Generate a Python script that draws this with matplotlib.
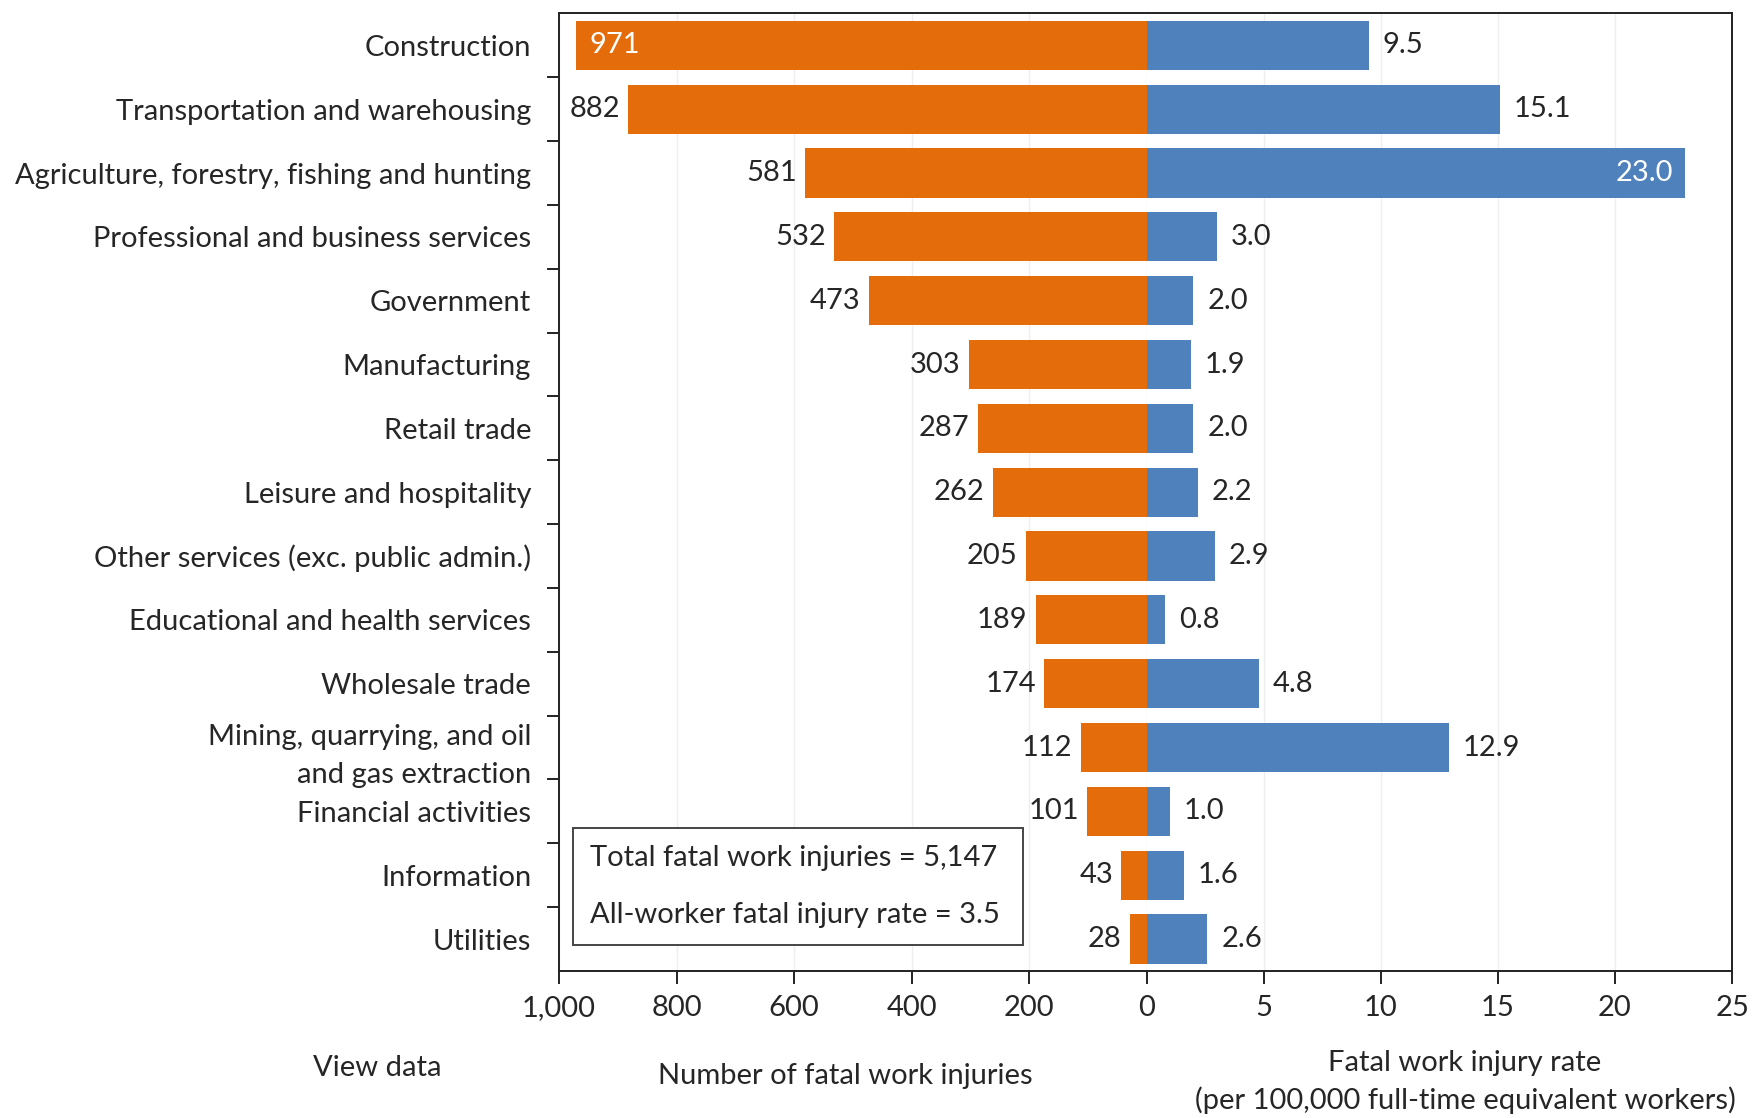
import numpy as np
import matplotlib
matplotlib.use("Agg")
from matplotlib import pyplot as plt
from matplotlib.patches import Rectangle
from matplotlib.ticker import FixedLocator

plt.rcParams["font.family"] = ["Lato", "DejaVu Sans"]

industries = [
    "Construction",
    "Transportation and warehousing",
    "Agriculture, forestry, fishing and hunting",
    "Professional and business services",
    "Government",
    "Manufacturing",
    "Retail trade",
    "Leisure and hospitality",
    "Other services (exc. public admin.)",
    "Educational and health services",
    "Wholesale trade",
    "Mining, quarrying, and oil\nand gas extraction",
    "Financial activities",
    "Information",
    "Utilities",
]
fatal_counts = [971, 882, 581, 532, 473, 303, 287, 262, 205, 189, 174, 112, 101, 43, 28]
fatal_rates = [9.5, 15.1, 23.0, 3.0, 2.0, 1.9, 2.0, 2.2, 2.9, 0.8, 4.8, 12.9, 1.0, 1.6, 2.6]
count_ticks = [1000, 800, 600, 400, 200, 0]
rate_ticks = [5, 10, 15, 20, 25]
summary_lines = ["Total fatal work injuries = 5,147", "All-worker fatal injury rate = 3.5"]

ORANGE = "#E46C0A"
BLUE = "#4F81BD"
TEXT = "#262626"
FS = 21

fig = plt.figure(figsize=(17.54, 11.18), dpi=100)
ax_l = fig.add_axes([0.3187, 0.1315, 0.335, 0.8565])
ax_r = fig.add_axes([0.6537, 0.1315, 0.3338, 0.8565], sharey=ax_l)

y = np.arange(len(industries))
bar_h = 0.77

ax_l.barh(y, fatal_counts, height=bar_h, color=ORANGE, zorder=3)
ax_r.barh(y, fatal_rates, height=bar_h, color=BLUE, zorder=3)

ax_l.set_xlim(1000, 0)
ax_r.set_xlim(0, 25)
ax_l.set_ylim(len(industries) - 0.5, -0.5)

# value labels (left axis is inverted: negative offset moves text left)
for i, v in enumerate(fatal_counts):
    if i == 0:
        ax_l.annotate(f"{v}", (v, i), xytext=(10, 0), textcoords="offset points",
                      ha="left", va="center", color="white", fontsize=FS)
    else:
        ax_l.annotate(f"{v}", (v, i), xytext=(-6, 0), textcoords="offset points",
                      ha="right", va="center", color=TEXT, fontsize=FS)
for i, v in enumerate(fatal_rates):
    if v >= 20:
        ax_r.annotate(f"{v:.1f}", (v, i), xytext=(-9, 0), textcoords="offset points",
                      ha="right", va="center", color="white", fontsize=FS)
    else:
        ax_r.annotate(f"{v:.1f}", (v, i), xytext=(10, 0), textcoords="offset points",
                      ha="left", va="center", color=TEXT, fontsize=FS)

# spines
for ax in (ax_l, ax_r):
    for s in ax.spines.values():
        s.set_color("#222222")
        s.set_linewidth(1.4)
    ax.grid(axis="x", color="#eeeeee", linewidth=1, zorder=0)
    ax.set_axisbelow(True)
ax_l.spines["right"].set_visible(False)
ax_r.spines["left"].set_visible(False)

# x ticks
ax_l.xaxis.set_major_locator(FixedLocator(count_ticks))
ax_l.set_xticklabels([f"{t:,}" for t in count_ticks])
ax_r.xaxis.set_major_locator(FixedLocator(rate_ticks))
ax_r.set_xticklabels([str(t) for t in rate_ticks])
for ax in (ax_l, ax_r):
    ax.tick_params(axis="x", direction="out", length=9, width=1.4, color="#222222",
                   labelsize=FS, labelcolor=TEXT, pad=8)

# y ticks: marks between categories, labels at centres
ax_l.yaxis.set_major_locator(FixedLocator(np.arange(0.5, len(industries) - 1, 1)))
ax_l.yaxis.set_major_formatter(plt.NullFormatter())
ax_l.set_yticks(y, minor=True)
ax_l.set_yticklabels(industries, minor=True, fontsize=FS, color=TEXT, linespacing=1.55)
ax_l.tick_params(axis="y", which="major", direction="out", length=9, width=1.4, color="#222222")
ax_l.tick_params(axis="y", which="minor", length=0, pad=20)
ax_r.tick_params(axis="y", which="both", left=False, labelleft=False)

# summary box
ax_l.add_patch(Rectangle((0.023, 0.027), 0.767, 0.1225, transform=ax_l.transAxes,
                         fill=True, facecolor="white", edgecolor="#444444",
                         linewidth=1.4, zorder=5))
ax_l.text(0.053, 0.118, summary_lines[0], transform=ax_l.transAxes, ha="left",
          va="center", fontsize=FS, color=TEXT, zorder=6)
ax_l.text(0.053, 0.058, summary_lines[1], transform=ax_l.transAxes, ha="left",
          va="center", fontsize=FS, color=TEXT, zorder=6)

# axis titles
fig.text(377 / 1754, 1 - 1068 / 1118, "View data", ha="center", va="center",
         fontsize=FS, color=TEXT)
fig.text(845 / 1754, 1 - 1076 / 1118, "Number of fatal work injuries", ha="center",
         va="center", fontsize=FS, color=TEXT)
fig.text(1465 / 1754, 1 - 1082 / 1118,
         "Fatal work injury rate\n(per 100,000 full-time equivalent workers)",
         ha="center", va="center", fontsize=FS, color=TEXT, linespacing=1.5)

fig.savefig("out.png", dpi=100)
plt.close(fig)
